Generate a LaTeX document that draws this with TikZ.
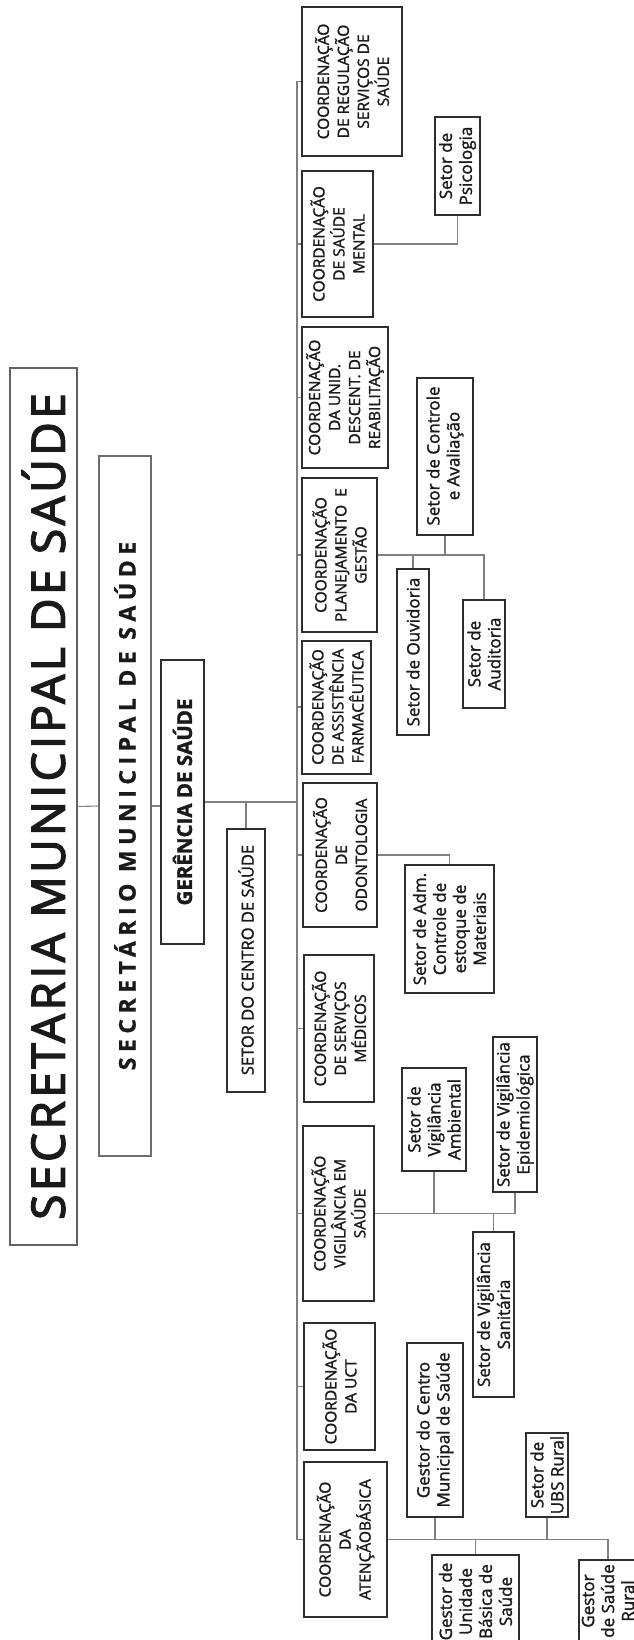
\documentclass[tikz,border=0pt]{standalone}
\usepackage{fontspec}
\setmainfont{Open Sans}[FakeBold=1.5]
\newfontfamily\titlefont{Open Sans}[LetterSpace=7.5,FakeBold=3]
\newfontfamily\secfont{Open Sans}[LetterSpace=24,FakeBold=1]
\definecolor{boxc}{HTML}{2E2E2E}
\definecolor{linec}{HTML}{808080}
\definecolor{txt}{HTML}{1A1A1A}
\newcommand\coordfont{\fontsize{15.5}{20}\selectfont}
\newcommand\subfont{\fontsize{17}{20}\selectfont}
\tikzset{
  box/.style={draw=boxc, line width=2pt, rotate=90, inner sep=1pt, align=center, text=txt},
  coordbox/.style={box, font=\coordfont},
  subbox/.style={box, font=\subfont},
  conn/.style={draw=linec, line width=1.1pt},
}
\begin{document}
\begin{tikzpicture}[x=1pt,y=-1pt]
\useasboundingbox (0,0) rectangle (634,1640);
\fill[white] (0,0) rectangle (634,1640);
\clip (0,0) rectangle (634,1640);
% top levels
\node[box, line width=2.6pt, draw=boxc!75, minimum width=877pt, minimum height=67pt, font=\titlefont\fontsize{46}{52}\selectfont] (title) at (43.5,806.5) {SECRETARIA MUNICIPAL DE SAÚDE};
\node[box, line width=2.8pt, draw=boxc!70, minimum width=700pt, minimum height=52pt, font=\secfont\bfseries\fontsize{23}{26}\selectfont] (sec) at (125,806) {SECRETÁRIO MUNICIPAL DE SAÚDE};
\node[box, line width=2.8pt, minimum width=284pt, minimum height=43pt, font=\bfseries\fontsize{20.5}{24}\selectfont] (ger) at (182.5,802) {GERÊNCIA DE SAÚDE};
\node[box, minimum width=263pt, minimum height=38pt, font=\fontsize{16.5}{20}\selectfont] (sc) at (246,960) {SETOR DO CENTRO DE SAÚDE};
% coordinations
\node[coordbox, minimum width=149pt, minimum height=100pt] (reg) at (352,81.5) {COORDENAÇÃO\\DE REGULAÇÃO\\SERVIÇOS DE\\SAÚDE};
\node[coordbox, minimum width=146pt, minimum height=71pt] (sm) at (337.5,244) {COORDENAÇÃO\\DE SAÚDE\\MENTAL};
\node[coordbox, minimum width=141pt, minimum height=86pt] (reab) at (345,397.5) {COORDENAÇÃO\\DA UNID.\\DESCENT. DE\\REABILITAÇÃO};
\node[coordbox, minimum width=154pt, minimum height=75pt] (plan) at (339.5,555) {COORDENAÇÃO\\PLANEJAMENTO\ \ E\\GESTÃO};
\node[coordbox, minimum width=133pt, minimum height=69pt] (farm) at (336.5,707) {COORDENAÇÃO\\DE ASSISTÊNCIA\\FARMACÊUTICA};
\node[coordbox, minimum width=144pt, minimum height=74pt] (odo) at (340,855) {COORDENAÇÃO\\DE\\ODONTOLOGIA};
\node[coordbox, minimum width=147pt, minimum height=70pt] (med) at (339,1028.5) {COORDENAÇÃO\\DE SERVIÇOS\\MÉDICOS};
\node[coordbox, minimum width=175pt, minimum height=71pt] (vig) at (338.5,1213.5) {COORDENAÇÃO\\VIGILÂNCIA EM\\SAÚDE};
\node[coordbox, minimum width=127pt, minimum height=71pt] (uct) at (339.5,1386.5) {COORDENAÇÃO\\DA UCT};
\node[coordbox, minimum width=155pt, minimum height=83pt] (aten) at (345.5,1539.5) {COORDENAÇÃO\\DA\\ATENÇÃOBÁSICA};
% sub sectors
\node[subbox, minimum width=98pt, minimum height=45pt] (psi) at (457.5,166) {Setor de\\Psicologia};
\node[subbox, minimum width=157pt, minimum height=56pt] (ctl) at (445,456) {Setor de Controle\\e Avaliação};
\node[subbox, minimum width=166pt, minimum height=32pt] (ouv) at (413,652) {Setor de Ouvidoria};
\node[subbox, minimum width=108pt, minimum height=42pt] (aud) at (484,654) {Setor de\\Auditoria};
\node[subbox, minimum width=128pt, minimum height=89pt] (adm) at (449.5,929) {Setor de Adm.\\Controle de\\estoque de\\Materiais};
\node[subbox, minimum width=103pt, minimum height=64pt] (amb) at (434,1119.5) {Setor de\\Vigilância\\Ambiental};
\node[subbox, minimum width=155pt, minimum height=44pt] (epi) at (515,1114.5) {Setor de Vigilância\\Epidemiológica};
\node[subbox, minimum width=165pt, minimum height=41pt] (san) at (493.5,1314.5) {Setor de Vigilância\\Sanitária};
\node[subbox, minimum width=174pt, minimum height=56pt] (gcen) at (435,1430) {Gestor do Centro\\Municipal de Saúde};
\node[subbox, minimum width=84pt, minimum height=42pt] (ubsr) at (547,1475) {Setor de\\UBS Rural};
\node[subbox, minimum width=93pt, minimum height=87pt] (gubs) at (475.5,1601.5) {Gestor de\\Unidade\\Básica de\\Saúde};
\node[subbox, minimum width=82pt, minimum height=58pt] (grur) at (608,1601) {Gestor\\de Saúde\\Rural};
% main spine
\coordinate (mtop) at (297,81.5);
\coordinate (mbot) at (297,1539.5);
\draw[conn] (mtop) -- (mbot);
\foreach \n in {reg,sm,reab,plan,farm,odo,med,vig,uct,aten}
  \draw[conn] (\n.north) -- (\n.north -| mtop);
% upper chain
\draw[conn] (title.south) -- (sec.north);
\draw[conn] (sec.south) -- (sec.south -| ger.north);
\draw[conn] (ger.south) -- (ger.south -| mtop);
\draw[conn] (sc.east) -- (sc.east |- ger.south);
% branches
\draw[conn] (sm.south) -| (psi.west);
\draw[conn] (plan.south) -| (aud.east);
\draw[conn] (ouv.east) -- (ouv.east |- plan.south);
\draw[conn] (ctl.west) -- (ctl.west |- plan.south);
\draw[conn] (odo.south) -| (adm.east);
\draw[conn] (vig.south) -| (epi.west);
\draw[conn] (amb.west) -- (amb.west |- vig.south);
\draw[conn] (san.east) -- (san.east |- vig.south);
\draw[conn] (aten.south) -| (grur.east);
\draw[conn] (gcen.west) -- (gcen.west |- aten.south);
\draw[conn] (gubs.east) -- (gubs.east |- aten.south);
\draw[conn] (ubsr.west) -- (ubsr.west |- aten.south);
\end{tikzpicture}
\end{document}
